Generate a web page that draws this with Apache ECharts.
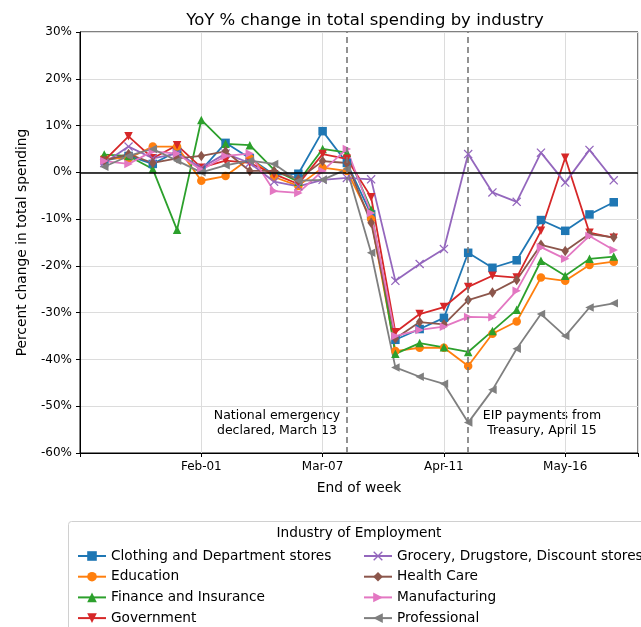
<!DOCTYPE html>
<html>
<head>
<meta charset="utf-8">
<script src="https://cdn.jsdelivr.net/npm/echarts@6/dist/echarts.min.js"></script>
<style>
  html, body { margin: 0; padding: 0; background: #fff; }
  #chart { width: 641px; height: 627px; }
</style>
</head>
<body>
<div id="chart"></div>
<script>
// days counted from Feb-01 (week ending dates, Jan-04 .. May-30)
var weekDays = [-28, -21, -14, -7, 0, 7, 14, 21, 28, 35, 42, 49, 56, 63, 70, 77, 84, 91, 98, 105, 112, 119];
var tickDays = [0, 35, 70, 105];
var tickLabels = ['Feb-01', 'Mar-07', 'Apr-11', 'May-16'];
var eventDays = [42, 77];

var seriesNames = [
    'Clothing and Department stores', 'Education', 'Finance and Insurance', 'Government',
    'Grocery, Drugstore, Discount stores', 'Health Care', 'Manufacturing', 'Professional'
];

var clothing = [2.5, 3.5, 1.8, 4.5, 0.5, 6.3, 3.0, -0.5, -0.3, 8.8, 2.0, -9.0, -35.8, -33.5, -31.1, -17.2, -20.4, -18.8, -10.2, -12.5, -9.0, -6.4];
var education = [3.0, 3.0, 5.5, 5.5, -1.8, -0.8, 3.0, -1.0, -2.9, 1.0, 0.3, -10.0, -38.2, -37.5, -37.5, -41.4, -34.5, -31.9, -22.5, -23.2, -19.8, -19.1];
var finance = [3.8, 3.5, 0.7, -12.3, 11.2, 6.1, 5.8, 0.5, -2.0, 5.0, 4.2, -8.0, -38.8, -36.5, -37.4, -38.4, -33.9, -29.4, -18.9, -22.1, -18.5, -18.0];
var government = [2.5, 7.7, 3.0, 5.8, 1.0, 2.5, 2.0, -0.4, -2.5, 3.9, 2.9, -5.3, -34.2, -30.3, -28.8, -24.5, -22.1, -22.5, -12.5, 3.1, -12.9, -14.0];
var grocery = [2.0, 5.5, 3.0, 4.0, 1.0, 4.0, 2.0, -2.0, -3.0, -1.6, -1.2, -1.5, -23.2, -19.6, -16.4, 3.9, -4.3, -6.3, 4.2, -2.2, 4.8, -1.7];
var healthCare = [2.5, 3.9, 2.0, 3.0, 3.5, 4.5, 0.3, 0.3, -1.5, 2.4, 2.0, -10.8, -35.5, -32.0, -32.5, -27.3, -25.7, -23.0, -15.5, -16.8, -13.2, -13.9];
var manufacturing = [2.4, 1.8, 4.5, 4.0, 0.5, 3.5, 4.0, -4.0, -4.4, 0.3, 5.0, -8.7, -35.0, -33.7, -33.0, -30.9, -31.0, -25.3, -16.0, -18.5, -13.6, -16.6];
var professional = [1.2, 3.5, 5.0, 2.5, 0.0, 1.5, 2.5, 1.8, -1.8, -1.6, 0.7, -17.2, -41.7, -43.7, -45.2, -53.5, -46.5, -37.7, -30.3, -35.0, -28.9, -28.0];

var allValues = [clothing, education, finance, government, grocery, healthCare, manufacturing, professional];
var colors = ['#1f77b4', '#ff7f0e', '#2ca02c', '#d62728', '#9467bd', '#8c564b', '#e377c2', '#7f7f7f'];
var xPath = 'path://M0,1L1,0L5,4L9,0L10,1L6,5L10,9L9,10L5,6L1,10L0,9L4,5Z';
var symbols = ['rect', 'circle', 'triangle', 'triangle', xPath, 'diamond', 'triangle', 'triangle'];
var rotates = [0, 0, 0, 180, 0, 0, -90, 90];
var sizes = [8.5, 8.5, 8.5, 8.5, 9, [7.5, 10.5], 8.5, 8.5];

var chart = echarts.init(document.getElementById('chart'));
var font = 'DejaVu Sans';

var series = seriesNames.map(function (name, i) {
    var s = {
        name: name,
        type: 'line',
        data: weekDays.map(function (d, k) { return [d, allValues[i][k]]; }),
        symbol: symbols[i],
        symbolRotate: rotates[i],
        symbolSize: sizes[i],
        showAllSymbol: true,
        lineStyle: { width: 1.8, color: colors[i] },
        itemStyle: { color: colors[i] },
        emphasis: { disabled: true },
        animation: false
    };
    if (i === 0) {
        s.markLine = {
            silent: true,
            symbol: 'none',
            label: { show: false },
            animation: false,
            data: [
                { yAxis: 0, lineStyle: { color: '#000', width: 1.6, type: 'solid' } },
                { xAxis: eventDays[0], lineStyle: { color: '#777', width: 1.6, type: [6, 4] } },
                { xAxis: eventDays[1], lineStyle: { color: '#777', width: 1.6, type: [6, 4] } }
            ]
        };
    }
    return s;
});

// one legend per entry, two columns of four
var legends = seriesNames.map(function (name, i) {
    return {
        orient: 'horizontal',
        left: i < 4 ? 72 : 358,
        top: 544 + (i % 4) * 20.7,
        itemWidth: 28,
        itemHeight: 12,
        itemGap: 10,
        data: [name],
        textStyle: { fontFamily: font, fontSize: 13.7, color: '#000' },
        selectedMode: false
    };
});

var option = {
    animation: false,
    backgroundColor: '#fff',
    textStyle: { fontFamily: font },
    title: {
        text: 'YoY % change in total spending by industry',
        left: 360,
        top: 7,
        textAlign: 'center',
        textStyle: { fontFamily: font, fontSize: 16.5, fontWeight: 'normal', color: '#000' }
    },
    grid: { left: 80, right: 1, top: 32, bottom: 174, show: true, borderColor: '#000', borderWidth: 1 },
    xAxis: {
        type: 'value',
        min: -35,
        max: 126,
        interval: 35,
        name: 'End of week',
        nameLocation: 'middle',
        nameGap: 28,
        nameTextStyle: { fontFamily: font, fontSize: 13.8, color: '#000' },
        axisLine: { onZero: false, lineStyle: { color: '#000' } },
        axisTick: { length: 4, lineStyle: { color: '#000' } },
        axisLabel: {
            color: '#000', fontSize: 12, fontFamily: font, margin: 8,
            formatter: function (v) {
                var k = tickDays.indexOf(v);
                return k >= 0 ? tickLabels[k] : '';
            }
        },
        splitLine: { show: true, lineStyle: { color: '#dcdcdc', width: 1 } }
    },
    yAxis: {
        type: 'value',
        min: -60,
        max: 30,
        interval: 10,
        name: 'Percent change in total spending',
        nameLocation: 'middle',
        nameGap: 51,
        nameTextStyle: { fontFamily: font, fontSize: 13.8, color: '#000' },
        axisLine: { show: true, onZero: false, lineStyle: { color: '#000' } },
        axisTick: { show: true, length: 4, lineStyle: { color: '#000' } },
        axisLabel: { color: '#000', fontSize: 12, fontFamily: font, margin: 8, formatter: '{value}%' },
        splitLine: { show: true, lineStyle: { color: '#dcdcdc', width: 1 } }
    },
    legend: legends,
    graphic: [
        {
            type: 'rect', left: 68, top: 521, z: -1,
            shape: { width: 600, height: 140, r: 3 },
            style: { fill: '#fff', stroke: '#d0d0d0', lineWidth: 1 }
        },
        {
            type: 'text', x: 359, y: 526,
            style: { text: 'Industry of Employment', font: '13.7px "DejaVu Sans"', fill: '#000', align: 'center' }
        },
        {
            type: 'text', x: 277, y: 408,
            style: { text: 'National emergency\ndeclared, March 13', font: '12.5px "DejaVu Sans"', fill: '#000', align: 'center', lineHeight: 15 }
        },
        {
            type: 'text', x: 542, y: 408,
            style: { text: 'EIP payments from\nTreasury, April 15', font: '12.5px "DejaVu Sans"', fill: '#000', align: 'center', lineHeight: 15 }
        }
    ],
    series: series
};

chart.setOption(option);
</script>
</body>
</html>
